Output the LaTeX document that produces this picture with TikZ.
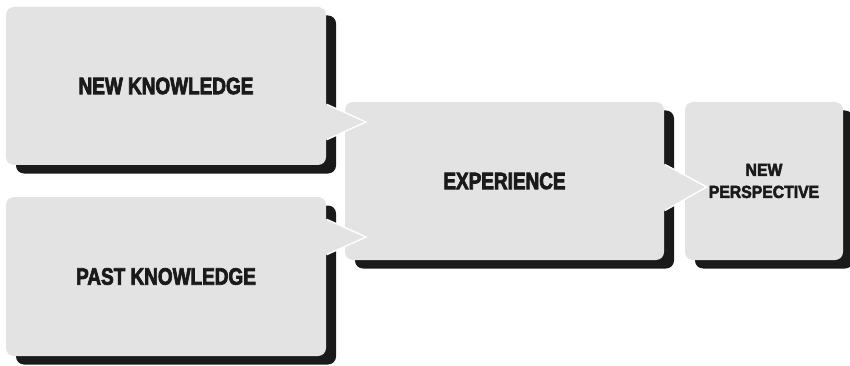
\documentclass[tikz,border=0pt]{standalone}
\usepackage{fontspec}
\usetikzlibrary{shadows}
\newfontfamily\lblfont[FakeStretch=0.8,FakeBold=3]{Liberation Sans Bold}
\newfontfamily\smlfont[FakeStretch=0.9,FakeBold=3]{Liberation Sans Bold}
\definecolor{boxc}{HTML}{E3E3E3}
\definecolor{shadc}{HTML}{1A1A1A}
\definecolor{txtc}{HTML}{1A1A1A}
\tikzset{
  box/.style={rectangle, rounded corners=8pt, fill=boxc, inner sep=0pt, align=center, text=txtc,
    font=\lblfont\fontsize{23.7}{26}\selectfont,
    drop shadow={shadow xshift=10pt, shadow yshift=-8.5pt, fill=shadc, opacity=1}},
  smallbox/.style={box, font=\smlfont\fontsize{17.5}{22}\selectfont},
  ptredge/.style={draw=white, line width=3pt, line join=miter},
  ptrfill/.style={fill=boxc}
}
\begin{document}
\begin{tikzpicture}[x=1pt,y=-1pt]
\useasboundingbox[fill=white] (0,0) rectangle (850,366);
% right boxes
\node[smallbox, minimum width=158pt, minimum height=158pt] (np) at (764,181) {NEW\\PERSPECTIVE};
\node[box, minimum width=319pt, minimum height=158pt] (exp) at (504.5,181) {EXPERIENCE};
\coordinate (exptip) at (705,187);
\begin{scope}
  \clip (exp.east |- 0,0) rectangle (850,366);
  \draw[ptredge] (exp.east |- 0,165) -- (exptip) -- (exp.east |- 0,210);
\end{scope}
\fill[ptrfill] (exp.east |- 0,165) -- (exptip) -- (exp.east |- 0,210) -- cycle;
% left boxes
\node[box, minimum width=320pt, minimum height=158pt] (nk) at (166,86) {NEW KNOWLEDGE};
\node[box, minimum width=320pt, minimum height=159pt] (pk) at (166,276.5) {PAST KNOWLEDGE};
\coordinate (nktip) at (364,122);
\coordinate (pktip) at (364,237);
\begin{scope}
  \clip (nk.east |- 0,0) rectangle (850,366);
  \draw[ptredge] (nk.east |- 0,105) -- (nktip) -- (nk.east |- 0,139);
  \draw[ptredge] (pk.east |- 0,220) -- (pktip) -- (pk.east |- 0,254);
\end{scope}
\fill[ptrfill] (nk.east |- 0,105) -- (nktip) -- (nk.east |- 0,139) -- cycle;
\fill[ptrfill] (pk.east |- 0,220) -- (pktip) -- (pk.east |- 0,254) -- cycle;
\end{tikzpicture}
\end{document}
